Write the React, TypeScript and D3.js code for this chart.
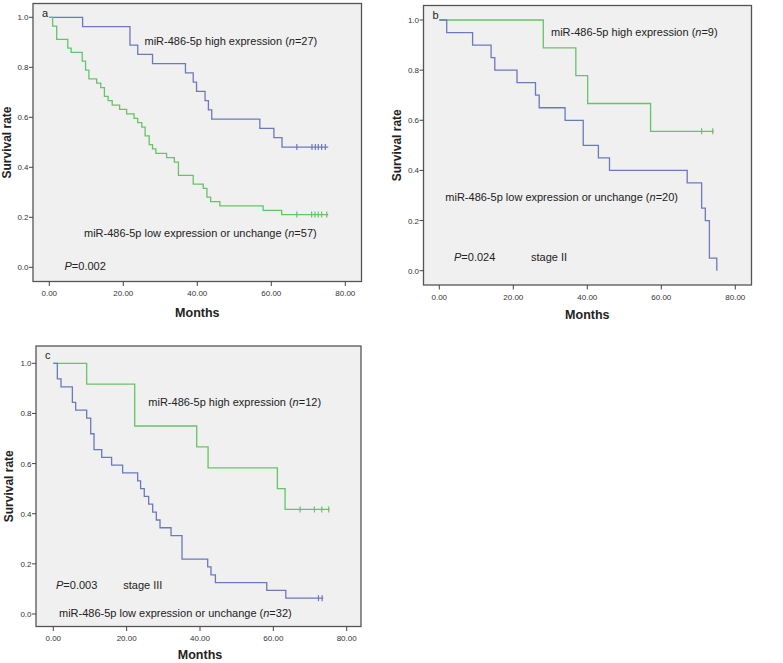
import React from "react";
import * as d3 from "d3";

// ---- Data ----
const xTicks = [0, 20, 40, 60, 80];
const yTicks = [0, 0.2, 0.4, 0.6, 0.8, 1.0];

// Panel a
const aHighTimes = [9, 21.8, 23.9, 27.9, 36.8, 38.9, 39.8, 42.1, 43, 43.9, 56.9, 60.7, 62.9];
const aHighSurv = [0.963, 0.889, 0.852, 0.815, 0.778, 0.741, 0.704, 0.667, 0.63, 0.593, 0.556, 0.519, 0.481];
const aHighCensor = [66.9, 71.0, 71.9, 72.7, 73.6, 74.6];
const aHighEnd = 75.4;

const aLowTimes = [0.9, 2.0, 5.0, 5.9, 8.9, 9.8, 10.7, 12.8, 13.9, 14.9, 15.9, 17.0, 19.0, 20.9, 22.9, 23.9, 25.0, 25.9, 27.0, 27.9, 28.8, 31.7, 33.8, 34.9, 38.9, 41.6, 42.6, 43.6, 46.1, 57.8, 62.8];
const aLowSurv = [0.965, 0.912, 0.877, 0.86, 0.825, 0.789, 0.754, 0.737, 0.719, 0.684, 0.667, 0.649, 0.632, 0.614, 0.596, 0.579, 0.561, 0.526, 0.491, 0.474, 0.456, 0.439, 0.421, 0.368, 0.333, 0.316, 0.281, 0.263, 0.246, 0.228, 0.211];
const aLowCensor = [66.9, 70.9, 71.8, 72.7, 73.6, 75.0];
const aLowEnd = 75.4;

// Panel b
const bHighTimes = [28.1, 36.9, 40.1, 57.1];
const bHighSurv = [0.889, 0.778, 0.667, 0.556];
const bHighCensor = [70.9, 73.9];
const bHighEnd = 74.2;

const bLowTimes = [2, 9, 14, 15, 21, 26, 27, 34, 38.9, 43, 46, 67, 70.9, 71.9, 73, 75];
const bLowSurv = [0.95, 0.9, 0.85, 0.8, 0.75, 0.7, 0.65, 0.6, 0.5, 0.45, 0.4, 0.35, 0.25, 0.2, 0.05, 0];
const bLowCensor: number[] = [];
const bLowEnd = 75;

// Panel c
const cHighTimes = [9.1, 22.2, 39.1, 42.2, 61.1, 63.2];
const cHighSurv = [0.917, 0.75, 0.667, 0.583, 0.5, 0.417];
const cHighCensor = [67.3, 71.2, 73.2, 75.1];
const cHighEnd = 75.3;

const cLowTimes = [1.1, 2.1, 5.2, 6.1, 9.1, 10.2, 11.1, 13.2, 15.9, 18.9, 23, 23.8, 24.8, 26, 27.1, 28.1, 29.1, 32.1, 35.1, 42.1, 43, 44.2, 58.2, 63.4];
const cLowSurv = [0.938, 0.906, 0.844, 0.813, 0.781, 0.719, 0.656, 0.625, 0.594, 0.563, 0.531, 0.5, 0.469, 0.438, 0.406, 0.375, 0.344, 0.313, 0.219, 0.188, 0.156, 0.125, 0.094, 0.063];
const cLowCensor = [72.3, 73.3];
const cLowEnd = 73.6;

const BLUE = "#6b79bd";
const GREEN = "#66c466";
const FONT = "'Liberation Sans', Arial, sans-serif";

type Series = { times: number[]; surv: number[]; censor: number[]; end: number; color: string };
type Note = { x: number; y: number; parts: { t: string; italic?: boolean }[] };

type Panel = {
  box: { l: number; t: number; r: number; b: number };
  x0: number; x80: number; y1: number; y0: number;
  letter: string;
  series: Series[];
  notes: Note[];
  ylabelX: number; xlabelY: number;
};

const hi = (n: string) => [{ t: "miR-486-5p high expression (" }, { t: "n", italic: true }, { t: "=" + n + ")" }];
const lo = (n: string) => [{ t: "miR-486-5p low expression or unchange (" }, { t: "n", italic: true }, { t: "=" + n + ")" }];
const pv = (v: string) => [{ t: "P", italic: true }, { t: "=" + v }];

const panels: Panel[] = [
  {
    box: { l: 33, t: 3.5, r: 361.5, b: 281.5 },
    x0: 49.3, x80: 345.3, y1: 17.3, y0: 267.3,
    letter: "a",
    series: [
      { times: aHighTimes, surv: aHighSurv, censor: aHighCensor, end: aHighEnd, color: BLUE },
      { times: aLowTimes, surv: aLowSurv, censor: aLowCensor, end: aLowEnd, color: GREEN },
    ],
    notes: [
      { x: 144.5, y: 44.5, parts: hi("27") },
      { x: 84, y: 236.5, parts: lo("57") },
      { x: 64.5, y: 269.5, parts: pv("0.002") },
    ],
    ylabelX: 11, xlabelY: 317,
  },
  {
    box: { l: 423.5, t: 5.5, r: 751.5, b: 285 },
    x0: 439.3, x80: 735.3, y1: 20, y0: 270.7,
    letter: "b",
    series: [
      { times: bHighTimes, surv: bHighSurv, censor: bHighCensor, end: bHighEnd, color: GREEN },
      { times: bLowTimes, surv: bLowSurv, censor: bLowCensor, end: bLowEnd, color: BLUE },
    ],
    notes: [
      { x: 551, y: 36.3, parts: hi("9") },
      { x: 445.3, y: 200.7, parts: lo("20") },
      { x: 454, y: 261.3, parts: pv("0.024") },
      { x: 531, y: 261.3, parts: [{ t: "stage II" }] },
    ],
    ylabelX: 401, xlabelY: 319,
  },
  {
    box: { l: 36, t: 346, r: 361, b: 626.5 },
    x0: 53.3, x80: 346.7, y1: 363.3, y0: 614,
    letter: "c",
    series: [
      { times: cHighTimes, surv: cHighSurv, censor: cHighCensor, end: cHighEnd, color: GREEN },
      { times: cLowTimes, surv: cLowSurv, censor: cLowCensor, end: cLowEnd, color: BLUE },
    ],
    notes: [
      { x: 148.3, y: 406.3, parts: hi("12") },
      { x: 56, y: 589, parts: pv("0.003") },
      { x: 123.3, y: 589, parts: [{ t: "stage III" }] },
      { x: 59, y: 616.7, parts: lo("32") },
    ],
    ylabelX: 13, xlabelY: 659,
  },
];

function KMPanel({ p }: { p: Panel }) {
  const x = d3.scaleLinear().domain([0, 80]).range([p.x0, p.x80]);
  const y = d3.scaleLinear().domain([0, 1]).range([p.y0, p.y1]);
  const line = d3
    .line<[number, number]>()
    .x((d) => x(d[0]))
    .y((d) => y(d[1]))
    .curve(d3.curveStepAfter);
  const { l, t, r, b } = p.box;
  return (
    <g>
      <rect x={l} y={t} width={r - l} height={b - t} fill="#f0f0f0" stroke="#555" strokeWidth={1.3} />
      {xTicks.map((v) => (
        <g key={"x" + v}>
          <line x1={x(v)} x2={x(v)} y1={b} y2={b + 4.5} stroke="#444" strokeWidth={1} />
          <text x={x(v)} y={b + 14.5} fontSize={8} textAnchor="middle" fill="#333" fontFamily={FONT}>
            {d3.format(".2f")(v)}
          </text>
        </g>
      ))}
      {yTicks.map((v) => (
        <g key={"y" + v}>
          <line x1={l - 4} x2={l} y1={y(v)} y2={y(v)} stroke="#444" strokeWidth={1} />
          <text x={l - 4.5} y={y(v) + 3} fontSize={8} textAnchor="end" fill="#333" fontFamily={FONT}>
            {d3.format(".1f")(v)}
          </text>
        </g>
      ))}
      <text
        x={(p.x0 + p.x80) / 2}
        y={p.xlabelY}
        fontSize={12.5}
        fontWeight="bold"
        textAnchor="middle"
        fill="#222"
        fontFamily={FONT}
      >
        Months
      </text>
      <text
        transform={`translate(${p.ylabelX},${(t + b) / 2}) rotate(-90)`}
        fontSize={12}
        fontWeight="bold"
        textAnchor="middle"
        fill="#222"
        fontFamily={FONT}
      >
        Survival rate
      </text>
      <text x={l + 9} y={t + 13} fontSize={11} fill="#222" fontFamily={FONT}>
        {p.letter}
      </text>
      {p.series.map((s, i) => {
        const pts: [number, number][] = [[0, 1]];
        s.times.forEach((tm, k) => pts.push([tm, s.surv[k]]));
        const last = s.surv[s.surv.length - 1];
        pts.push([s.end, last]);
        const survAt = (tm: number) => {
          let v = 1;
          s.times.forEach((tt, k) => {
            if (tt <= tm) v = s.surv[k];
          });
          return v;
        };
        return (
          <g key={i}>
            <path d={line(pts) || ""} fill="none" stroke={s.color} strokeWidth={1.3} />
            {s.censor.map((c, k) => (
              <line
                key={k}
                x1={x(c)}
                x2={x(c)}
                y1={y(survAt(c)) - 3}
                y2={y(survAt(c)) + 3}
                stroke={s.color}
                strokeWidth={1.2}
              />
            ))}
          </g>
        );
      })}
      {p.notes.map((n, i) => (
        <text key={i} x={n.x} y={n.y} fontSize={11} fill="#222" fontFamily={FONT}>
          {n.parts.map((pt, k) => (
            <tspan key={k} fontStyle={pt.italic ? "italic" : "normal"}>
              {pt.t}
            </tspan>
          ))}
        </text>
      ))}
    </g>
  );
}

export default function App() {
  return (
    <svg
      width={783}
      height={663}
      style={{ position: "absolute", left: 0, top: 0, background: "#fff" }}
    >
      <rect x={0} y={0} width={783} height={663} fill="#fff" />
      {panels.map((p, i) => (
        <KMPanel key={i} p={p} />
      ))}
    </svg>
  );
}
